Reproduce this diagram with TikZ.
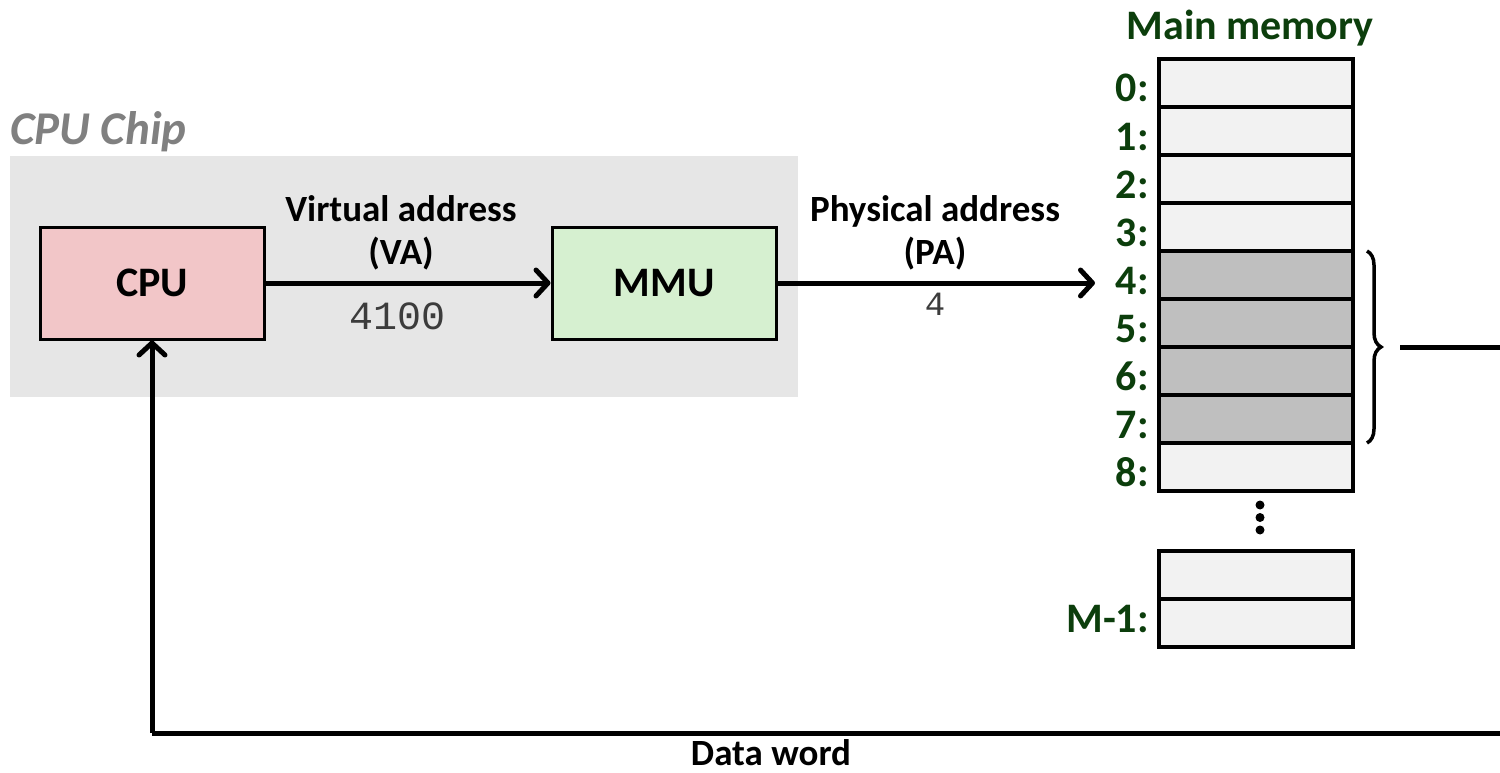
\documentclass[tikz,border=0pt]{standalone}
\usepackage{fontspec}
\setmainfont{Carlito}
\newfontfamily\monofont{Liberation Mono}
\usetikzlibrary{arrows.meta,decorations.pathreplacing}
\definecolor{chipgray}{RGB}{230,230,230}
\definecolor{cpupink}{RGB}{242,198,200}
\definecolor{mmugreen}{RGB}{214,240,208}
\definecolor{cellfill}{RGB}{242,242,242}
\definecolor{celldark}{RGB}{191,191,191}
\definecolor{titlegray}{RGB}{128,128,128}
\definecolor{memgreen}{RGB}{12,62,12}
\definecolor{numgray}{RGB}{60,60,60}
\tikzset{
  unitbox/.style={draw=black, line width=3pt, minimum width=224pt, minimum height=112pt, inner sep=0pt, font=\fontsize{42}{50}\selectfont\bfseries},
  memcell/.style={draw=black, line width=4pt, fill=cellfill, minimum width=194pt, minimum height=48pt, inner sep=0pt, outer sep=0pt},
  memdark/.style={memcell, fill=celldark},
  memlabel/.style={anchor=base east, inner sep=0pt, text=memgreen, font=\fontsize{42}{48}\selectfont\bfseries},
  wirelabel/.style={anchor=base, inner sep=0pt, font=\fontsize{37}{44}\selectfont\bfseries},
  numlabel/.style={anchor=base, inner sep=0pt, text=numgray, font=\fontsize{40}{48}\selectfont\monofont},
  wire/.style={line width=5pt},
  arrowwire/.style={wire, -{Straight Barb[length=12pt, width=26pt, line width=5pt, line cap=round, line join=round]}},
}
\begin{document}
\begin{tikzpicture}[x=1pt, y=-1pt]
\useasboundingbox (0,0) rectangle (1500,773);
\clip (0,0) rectangle (1500,773);
% chip background
\fill[chipgray] (10,156) rectangle (798,397);
\node[anchor=base west, inner sep=0pt, text=titlegray, font=\fontsize{47}{56}\selectfont\bfseries\itshape] (chip) at (10,145) {CPU Chip};
% units
\node[unitbox, fill=cpupink] (cpu) at (152,283) {CPU};
\node[unitbox, fill=mmugreen] (mmu) at (664,283) {MMU};
% labels on wires
\node[wirelabel] (va1) at (401,221) {Virtual address};
\node[wirelabel] (va2) at (401,264) {(VA)};
\node[numlabel] (vanum) at (398,329) {4100};
\node[wirelabel] (pa1) at (935,221) {Physical address};
\node[wirelabel] (pa2) at (935,264) {(PA)};
\node[numlabel, font=\fontsize{34}{40}\selectfont\monofont] (panum) at (935,315) {4};
% main memory
\node[anchor=base, inner sep=0pt, text=memgreen, font=\fontsize{42}{50}\selectfont\bfseries] (memtitle) at (1250,40) {Main memory};
\foreach \i in {0,1,2,3,8} {
  \node[memcell] (m\i) at (1256,{83+48*\i}) {};
}
\foreach \i in {4,5,6,7} {
  \node[memdark] (m\i) at (1256,{83+48*\i}) {};
}
\foreach \i in {0,...,8} {
  \node[memlabel] (l\i) at (1149,{102+48*\i}) {\i:};
}
\node[memcell] (ma) at (1256,575) {};
\node[memcell] (mb) at (1256,623) {};
\node[memlabel] (lm) at (1149,632) {M-1:};
% dots
\fill (1260,505) circle (4.5pt);
\fill (1260,517.5) circle (4.5pt);
\fill (1260,530) circle (4.5pt);
% brace
\draw[line width=3.5pt, decoration={brace, amplitude=14pt}, decorate] ([xshift=14pt]m4.north east) -- ([xshift=14pt]m7.south east);
\coordinate (btip) at (1400,347);
\coordinate (rt) at (1520,347);
\coordinate (rb) at (1520,733);
\coordinate (lb) at (152,733);
\coordinate (paend) at (1095,283);
% connectors
\draw[arrowwire] (cpu.east) -- (mmu.west);
\draw[arrowwire] (mmu.east) -- (paend);
\draw[wire] (btip) -- (rt) -- (rb) -- (lb);
\draw[arrowwire] (lb) -- (cpu.south);
\node[wirelabel] (dw) at (771,765) {Data word};
\end{tikzpicture}
\end{document}
